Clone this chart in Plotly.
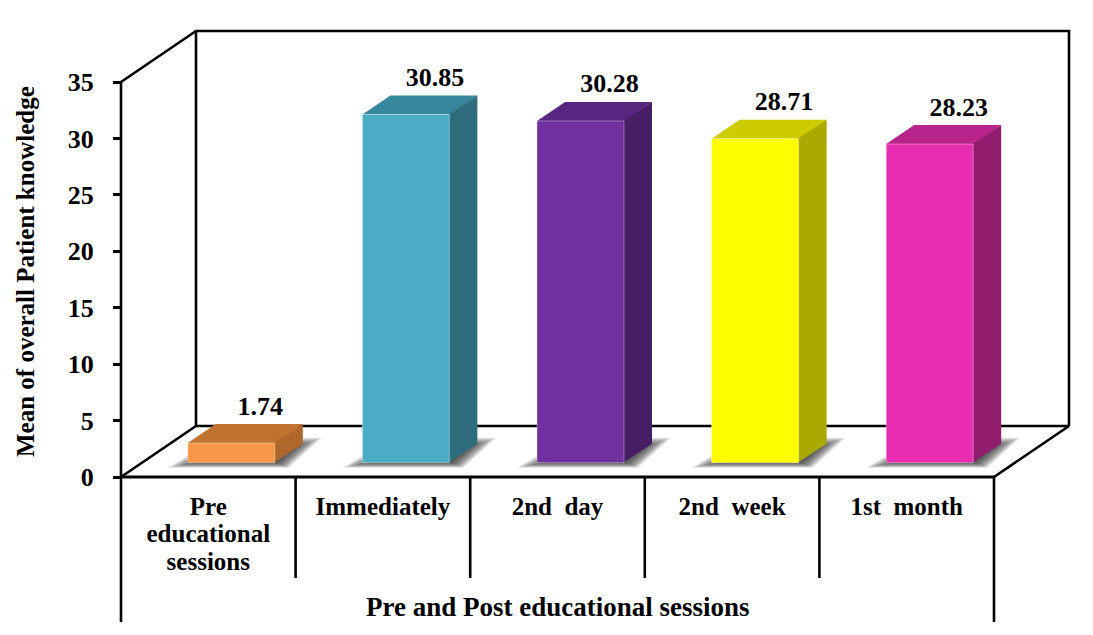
import plotly.graph_objects as go

categories = ["Pre<br>educational<br>sessions", "Immediately", "2nd\u00a0 day", "2nd\u00a0 week", "1st\u00a0 month"]
values = [1.74, 30.85, 30.28, 28.71, 28.23]
value_labels = ["1.74", "30.85", "30.28", "28.71", "28.23"]
y_ticks = [0, 5, 10, 15, 20, 25, 30, 35]
y_title = "Mean of overall Patient knowledge"
x_title = "Pre and Post educational sessions"
front_colors = ["#F79646", "#4BACC6", "#7030A0", "#FFFF00", "#E92DB0"]
top_colors = ["#C0722F", "#36869C", "#582680", "#CCCC00", "#B8238C"]
side_colors = ["#B0672C", "#2E6C7E", "#461E64", "#A9A900", "#921C6E"]

PAGE = 8                   # the page body adds this margin around the figure
W, H = 1093 - 2 * PAGE, 635 - 2 * PAGE
X0, Y0 = 121.0 - PAGE, 477.0 - PAGE   # front origin inside the figure
CAT_PX = 174.6             # pixels per category
VAL_PX = 395.0 / 35.0      # pixels per value unit
cx = lambda px: (px - PAGE - (X0 + CAT_PX / 2)) / CAT_PX   # screen x -> category units
cy = lambda px: (Y0 + PAGE - px) / VAL_PX                  # screen y -> value units
dx = lambda px: px / CAT_PX
dy = lambda px: px / VAL_PX

x_range = [cx(PAGE), cx(PAGE + W)]
y_range = [cy(PAGE + H), cy(PAGE)]

DEPTH_X, DEPTH_Y = dx(75), dy(51)
LEFT, RIGHT = -0.5, len(categories) - 0.5
TOP = 35.0

BAR_W = dx(87)
BAR_SHIFT_X, BAR_BASE = dx(23), dy(14.3)
SIDE_X, SIDE_Y = dx(28), dy(19)

fig = go.Figure()


def poly(xs, ys, color, edge=None):
    fig.add_trace(go.Scatter(x=xs + xs[:1], y=ys + ys[:1], mode="lines", fill="toself", fillcolor=color,
                             line=dict(width=1 if edge else 0, color=edge or color),
                             hoverinfo="skip", showlegend=False))


def line(xs, ys, width=2.6):
    fig.add_trace(go.Scatter(x=xs, y=ys, mode="lines", line=dict(color="black", width=width),
                             hoverinfo="skip", showlegend=False))


# frame: walls and floor
line([LEFT + DEPTH_X, LEFT + DEPTH_X, RIGHT + DEPTH_X, RIGHT + DEPTH_X],
     [DEPTH_Y, TOP + DEPTH_Y, TOP + DEPTH_Y, DEPTH_Y])
line([LEFT, LEFT + DEPTH_X], [TOP, TOP + DEPTH_Y])
line([LEFT, LEFT + DEPTH_X, RIGHT + DEPTH_X, RIGHT], [0, DEPTH_Y, DEPTH_Y, 0])
line([LEFT, RIGHT], [0, 0], 3)
line([LEFT, LEFT], [TOP, -dy(145)])
line([RIGHT, RIGHT], [0, -dy(145)])
for i in range(1, len(categories)):
    line([LEFT + i, LEFT + i], [0, -dy(101)])

# floor shadows, layered for a soft edge
for i in range(len(categories)):
    x0 = i + BAR_SHIFT_X - BAR_W / 2
    x1 = x0 + BAR_W
    for inset in range(0, 16):
        poly([x0 - dx(20 - 2.4 * inset), x1 + dx(14 - inset), x1 + dx(47 - 2.2 * inset), x0 + dx(30 + inset)],
             [BAR_BASE - dy(5 - 0.45 * inset), BAR_BASE - dy(5 - 0.45 * inset),
              BAR_BASE + dy(25 - 0.8 * inset), BAR_BASE + dy(25 - 0.8 * inset)],
             "rgba(50,50,50,0.11)")

# bars: top, side, front faces
for i, v in enumerate(values):
    x0 = i + BAR_SHIFT_X - BAR_W / 2
    x1 = x0 + BAR_W
    y0 = BAR_BASE
    y1 = BAR_BASE + v
    poly([x0, x1, x1 + SIDE_X, x0 + SIDE_X], [y1, y1, y1 + SIDE_Y, y1 + SIDE_Y], top_colors[i])
    poly([x1 - dx(1), x1 + SIDE_X, x1 + SIDE_X, x1 - dx(1)], [y0, y0 + SIDE_Y, y1 + SIDE_Y, y1], side_colors[i])
    poly([x0, x1, x1, x0], [y0, y0, y1, y1], front_colors[i], edge="rgba(255,255,255,0.35)")

FONT = "Liberation Serif"
CAT_SIZE = 25
fig.add_trace(go.Scatter(
    x=[i + BAR_SHIFT_X + dx(29) for i in range(len(values))],
    y=[BAR_BASE + v + dy(35) for v in values],
    mode="text", text=value_labels, textposition="middle center",
    textfont=dict(family=FONT, size=26, color="black", weight=700),
    hoverinfo="skip", showlegend=False))

# first line of each category is the axis tick label; following lines sit on a tighter pitch
LINE_PX = 28.5
first_lines = [c.split("<br>")[0] for c in categories]
extra_x, extra_y, extra_text = [], [], []
for i, c in enumerate(categories):
    for k, part in enumerate(c.split("<br>")[1:], start=1):
        extra_x.append(i)
        extra_y.append(cy(507 + k * LINE_PX))
        extra_text.append(part)
fig.add_trace(go.Scatter(x=extra_x, y=extra_y, mode="text", text=extra_text, textposition="middle center",
                         textfont=dict(family=FONT, size=CAT_SIZE, color="black", weight=700),
                         hoverinfo="skip", showlegend=False))

fig.update_layout(
    width=W, height=H, autosize=False, margin=dict(l=0, r=0, t=0, b=0),
    paper_bgcolor="white", plot_bgcolor="rgba(0,0,0,0)", showlegend=False,
    xaxis=dict(range=x_range, showgrid=False, zeroline=False, showline=False,
               anchor="free", position=(H - Y0) / H,
               tickmode="array", tickvals=list(range(len(categories))), ticktext=first_lines,
               ticks="", ticklabelstandoff=12,
               tickfont=dict(family=FONT, size=CAT_SIZE, color="black", weight=700)),
    yaxis=dict(range=y_range, showgrid=False, zeroline=False, showline=False,
               anchor="free", position=X0 / W,
               tickmode="array", tickvals=y_ticks, ticks="outside", ticklen=8, tickwidth=2.5, tickcolor="black",
               ticklabelstandoff=14,
               tickfont=dict(family=FONT, size=26, color="black", weight=700)),
    annotations=[
        dict(text=y_title, x=cx(25), y=cy(272), xref="x", yref="y", showarrow=False, textangle=-90,
             font=dict(family=FONT, size=25, color="black", weight=700)),
        dict(text=x_title, x=cx(558), y=cy(607), xref="x", yref="y", showarrow=False,
             font=dict(family=FONT, size=27, color="black", weight=700)),
    ],
)
fig.write_html("out.html")
